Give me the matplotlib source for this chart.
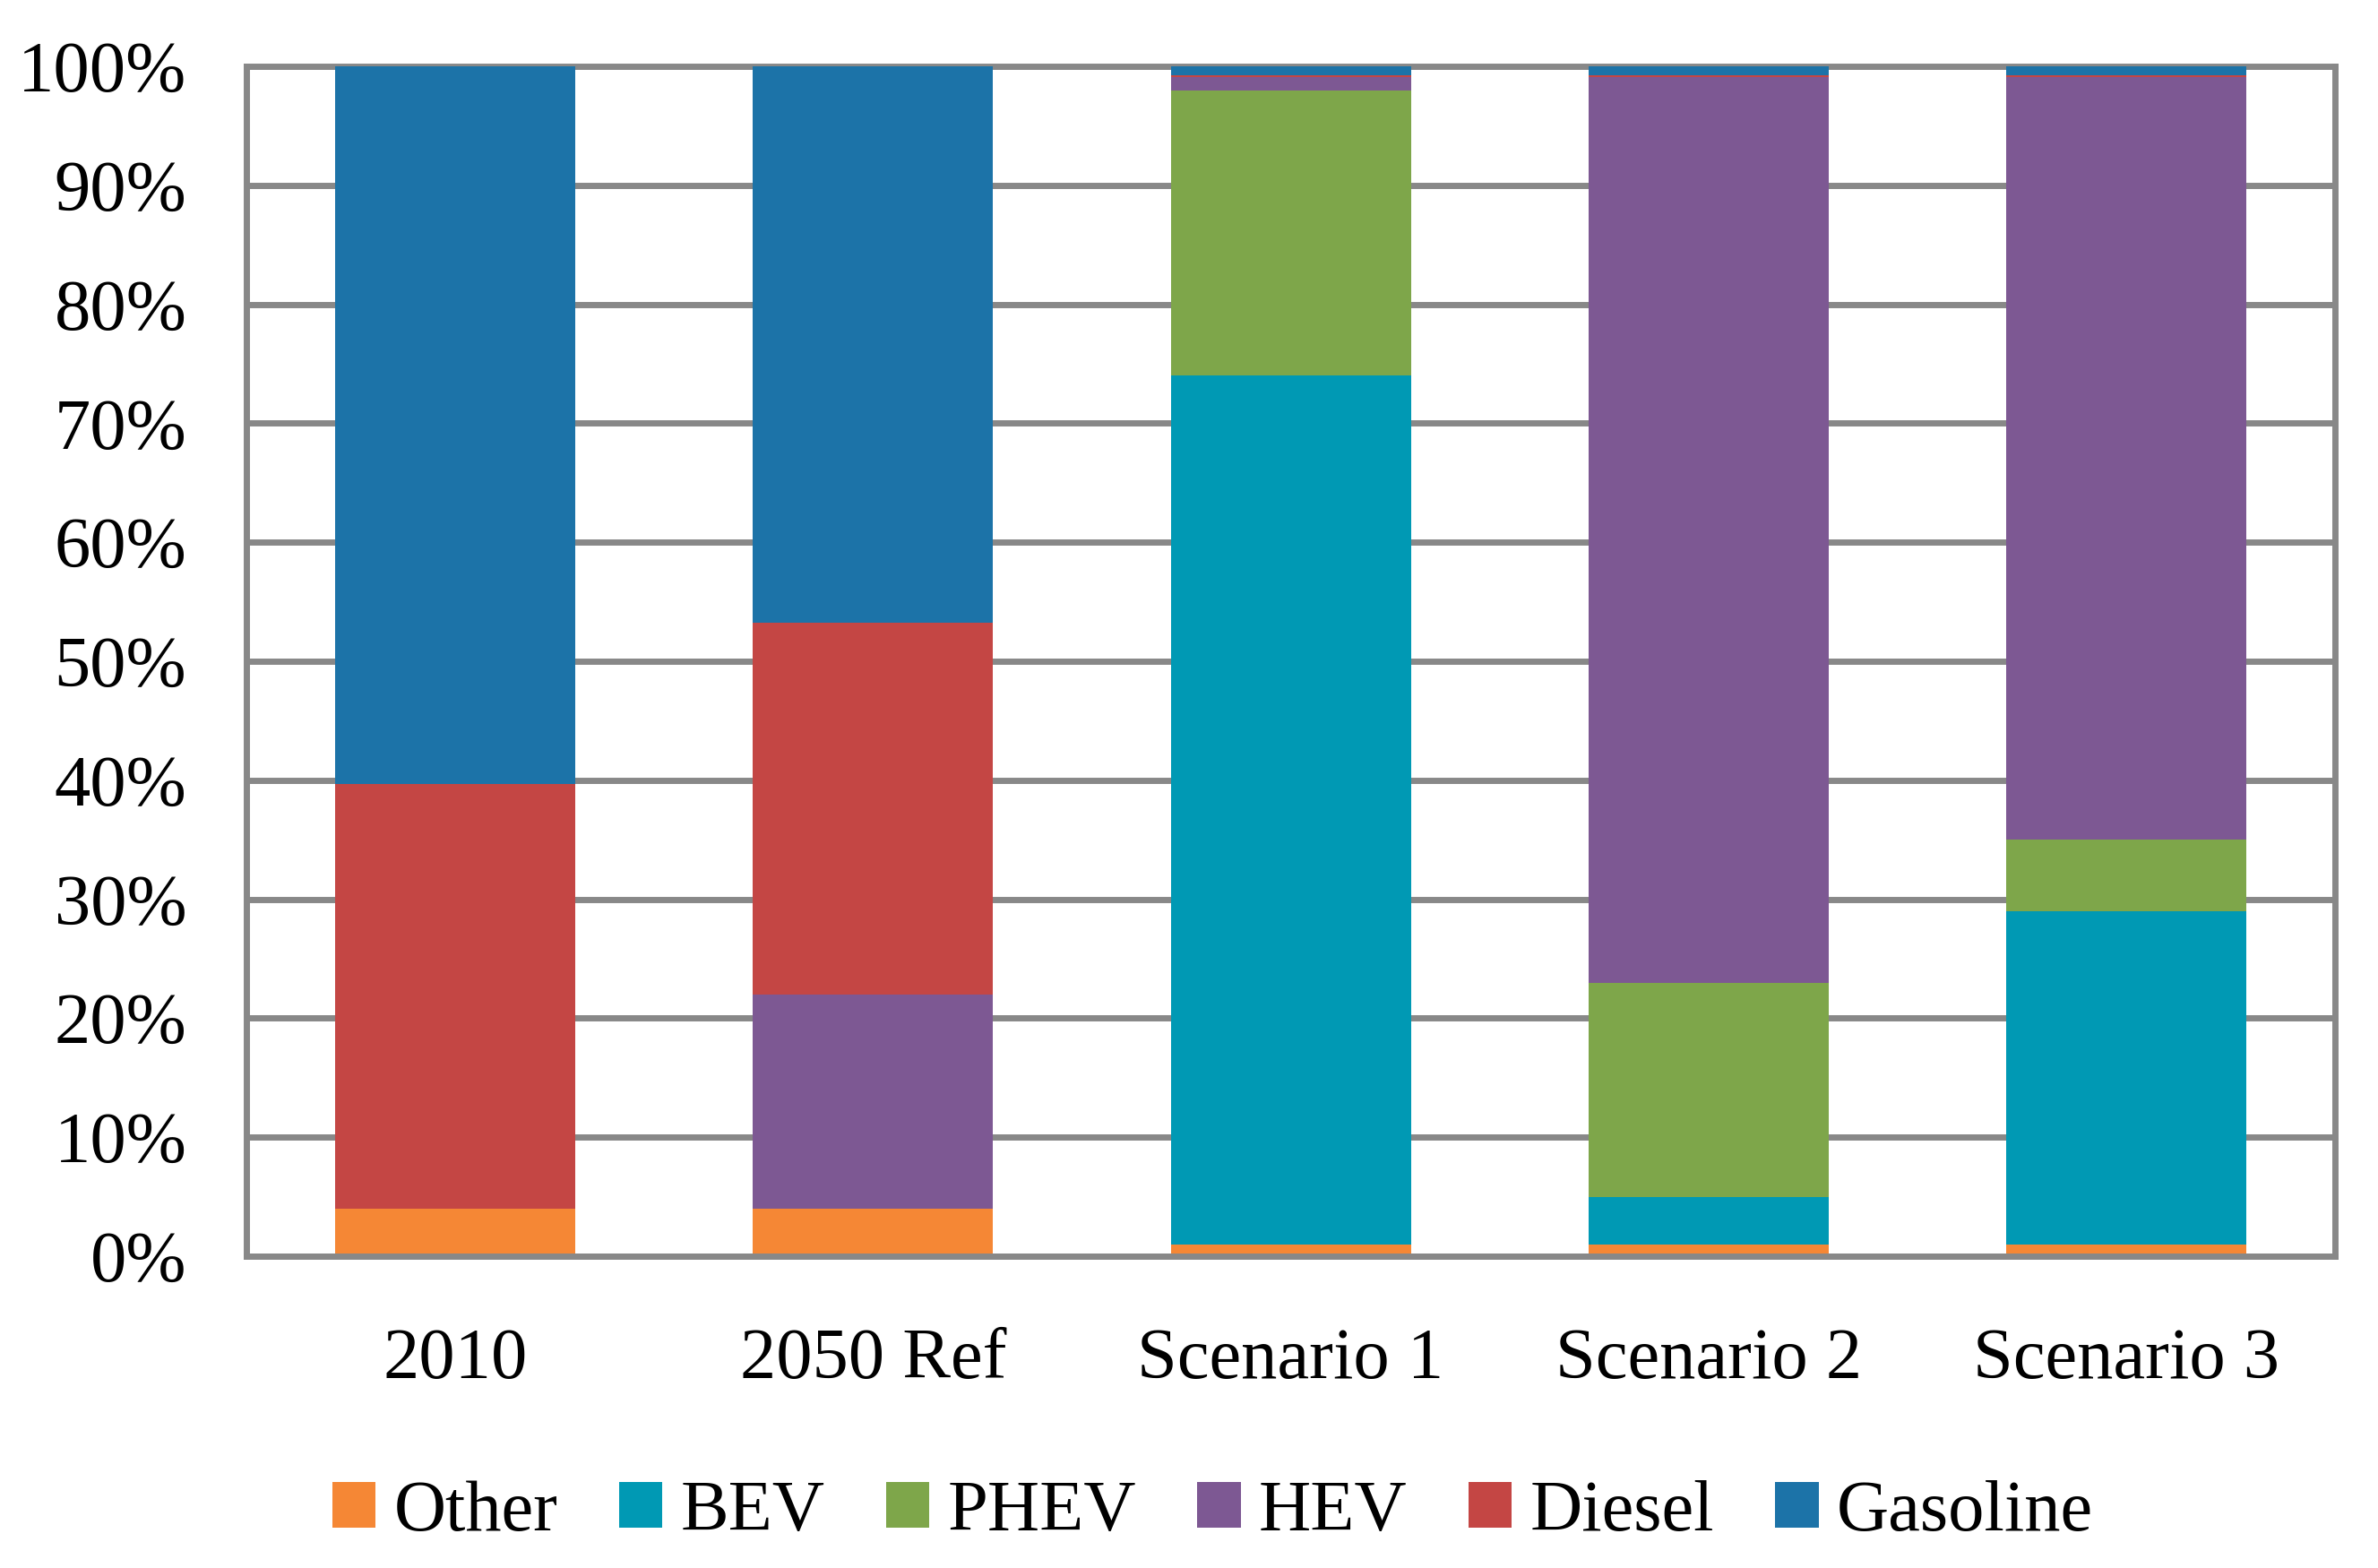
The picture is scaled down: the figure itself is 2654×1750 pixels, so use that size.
import matplotlib
matplotlib.use("Agg")
import matplotlib.pyplot as plt
from matplotlib.patches import Patch
from matplotlib.ticker import FuncFormatter
import numpy as np

categories = ["2010", "2050 Ref", "Scenario 1", "Scenario 2", "Scenario 3"]
series_names = ["Other", "BEV", "PHEV", "HEV", "Diesel", "Gasoline"]
other    = [4.0, 4.0, 1.0, 1.0, 1.0]
bev      = [0.0, 0.0, 73.0, 4.0, 28.0]
phev     = [0.0, 0.0, 24.0, 18.0, 6.0]
hev      = [0.0, 18.0, 1.1, 76.1, 64.1]
diesel   = [35.7, 31.2, 0.15, 0.15, 0.15]
gasoline = [60.3, 46.8, 0.75, 0.75, 0.75]
colors = ["#F58735", "#0099B4", "#7EA64A", "#7D5893", "#C44644", "#1C73A8"]

plt.rcParams['font.family'] = ['Liberation Serif', 'DejaVu Serif']
fs = 29
grid_gray = "#888888"

fig = plt.figure(figsize=(13.27, 8.75), dpi=200)
ax = fig.add_axes([0.1036, 0.1989, 0.982 - 0.1036, 0.9577 - 0.1989])

x = np.arange(len(categories))
bottom = np.zeros(len(categories))
data = [other, bev, phev, hev, diesel, gasoline]
for vals, col in zip(data, colors):
    ax.bar(x, vals, width=0.575, bottom=bottom, color=col, zorder=3, linewidth=0)
    bottom += np.array(vals)

ax.set_xlim(-0.5, len(categories) - 0.5)
ax.set_ylim(0, 100)
ax.set_yticks(np.arange(0, 101, 10))
ax.yaxis.set_major_formatter(FuncFormatter(lambda v, p: f"{int(round(v))}%"))
ax.set_xticks(x)
ax.set_xticklabels(categories)
ax.tick_params(axis='y', length=0, pad=24, labelsize=fs)
ax.tick_params(axis='x', length=0, pad=29, labelsize=fs)

ax.set_axisbelow(True)
ax.yaxis.grid(True, color=grid_gray, linewidth=2.5)
for name, sp in ax.spines.items():
    sp.set_color(grid_gray)
    sp.set_linewidth(2.5)
    sp.set_zorder(2)
ax.spines['bottom'].set_zorder(4)

handles = [Patch(facecolor=c, edgecolor='none', label=n) for n, c in zip(series_names, colors)]
fig.legend(handles=handles, loc='center', bbox_to_anchor=(0.51, 0.035), ncol=6,
           frameon=False, fontsize=fs, handlelength=0.6, handleheight=0.6,
           handletextpad=0.25, columnspacing=0.85)

fig.savefig("out.png", dpi=200)
